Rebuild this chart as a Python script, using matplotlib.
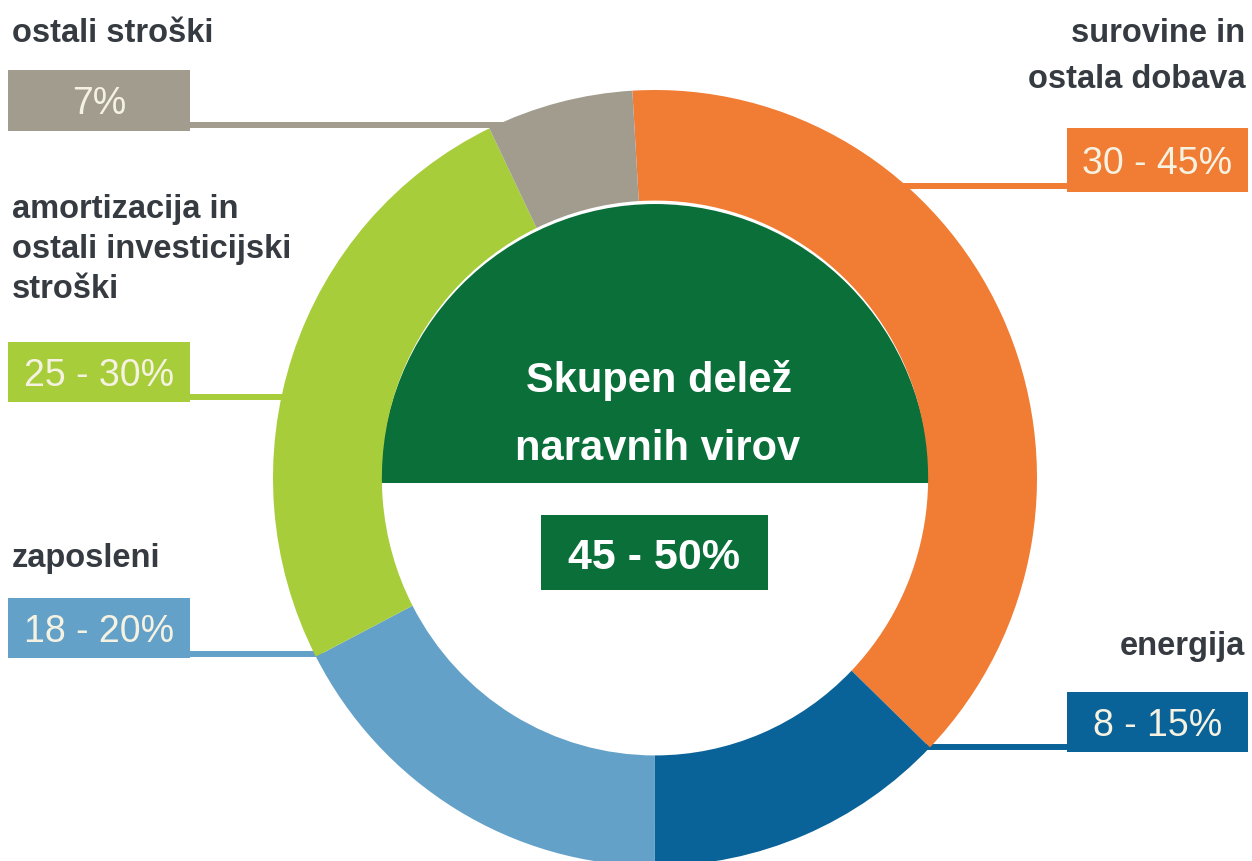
import numpy as np
import matplotlib
matplotlib.use("Agg")
import matplotlib.pyplot as plt
from matplotlib.patches import Rectangle, Wedge

# ---------------- data ----------------
categories = ["surovine in\nostala dobava", "energija", "zaposleni",
              "amortizacija in\nostali investicijski\nstroški", "ostali stroški"]
shares = [38.2, 12.8, 17.4, 25.5, 6.2]          # share of the ring
range_labels = ["30 - 45%", "8 - 15%", "18 - 20%", "25 - 30%", "7%"]
center_title = ["Skupen delež", "naravnih virov"]
center_value = "45 - 50%"

colors = ["#f17c33", "#0a6398", "#64a1c9", "#a7cd3a", "#a19c8e"]
dark_green = "#0b6f3a"
label_color = "#363b41"
box_text_color = "#f5f2e2"

# ---------------- layout (pixels) ----------------
W, H = 1252, 861
cx, cy, rx, ry = 655, 478, 382, 388
ring_width = 0.285
start_angle = 93.4
# box x0, x1, y0, y1, connector y, side, first baseline, line step
layout = [
    (1067, 1248, 128, 192, 186, "right", 42, 46),
    (1067, 1248, 692, 752, 747, "right", 655, 40),
    (8, 190, 598, 658, 654, "left", 567, 40),
    (8, 190, 342, 402, 397, "left", 218, 40),
    (8, 190, 70, 131, 125, "left", 42, 40),
]

narrow = ["Liberation Sans Narrow", "Liberation Sans", "DejaVu Sans"]
sans = ["Liberation Sans", "DejaVu Sans"]

fig = plt.figure(figsize=(W / 100, H / 100), dpi=100)
fig.patch.set_facecolor("white")

# bottom axes: connector lines
bax = fig.add_axes([0, 0, 1, 1])
bax.set_xlim(0, W)
bax.set_ylim(H, 0)
bax.axis("off")

for (x0, x1, y0, y1, ly, side, b0, step), col in zip(layout, colors):
    xe = rx * np.sqrt(max(0.0, 1 - ((ly - cy) / ry) ** 2))
    if side == "left":
        bax.plot([x1 - 2, cx - xe + 8], [ly, ly], color=col, lw=4.3, solid_capstyle="butt")
    else:
        bax.plot([cx + xe - 8, x0 + 2], [ly, ly], color=col, lw=4.3, solid_capstyle="butt")

# donut axes
dax = fig.add_axes([(cx - rx) / W, (H - cy - ry) / H, 2 * rx / W, 2 * ry / H])
dax.patch.set_alpha(0)
dax.pie(shares, colors=colors, startangle=start_angle, counterclock=False, radius=1,
        wedgeprops=dict(width=ring_width, edgecolor="none", linewidth=0))
dax.add_patch(Wedge((0, -5 / ry), 1 - ring_width + 0.004, 0, 180, facecolor=dark_green,
                    edgecolor="none", zorder=0.5))
dax.set_xlim(-1, 1)
dax.set_ylim(-1, 1)
dax.set_aspect("auto")
dax.axis("off")

# top axes: boxes and texts
tax = fig.add_axes([0, 0, 1, 1])
tax.patch.set_alpha(0)
tax.set_xlim(0, W)
tax.set_ylim(H, 0)
tax.axis("off")

for (x0, x1, y0, y1, ly, side, b0, step), col, cat, rng in zip(layout, colors, categories, range_labels):
    tax.add_patch(Rectangle((x0, y0), x1 - x0, y1 - y0, facecolor=col, edgecolor="none"))
    tax.text((x0 + x1) / 2, (y0 + y1) / 2 + 14, rng, ha="center", va="baseline",
             fontsize=27, color=box_text_color, family=narrow)
    for i, line in enumerate(cat.split("\n")):
        if side == "left":
            tax.text(12, b0 + i * step, line, ha="left", va="baseline", fontsize=23.5,
                     fontweight="bold", color=label_color, family=sans)
        else:
            tax.text(1245, b0 + i * step, line, ha="right", va="baseline", fontsize=23.5,
                     fontweight="bold", color=label_color, family=sans)

# center
tax.text(659, 392, center_title[0], ha="center", va="baseline", fontsize=30,
         fontweight="bold", color="white", family=sans)
tax.text(658, 460, center_title[1], ha="center", va="baseline", fontsize=30,
         fontweight="bold", color="white", family=sans)
tax.add_patch(Rectangle((541, 515), 227, 75, facecolor=dark_green, edgecolor="none"))
tax.text(654.5, 569, center_value, ha="center", va="baseline", fontsize=31,
         fontweight="bold", color="white", family=narrow)

fig.savefig("out.png", dpi=100, facecolor="white")
